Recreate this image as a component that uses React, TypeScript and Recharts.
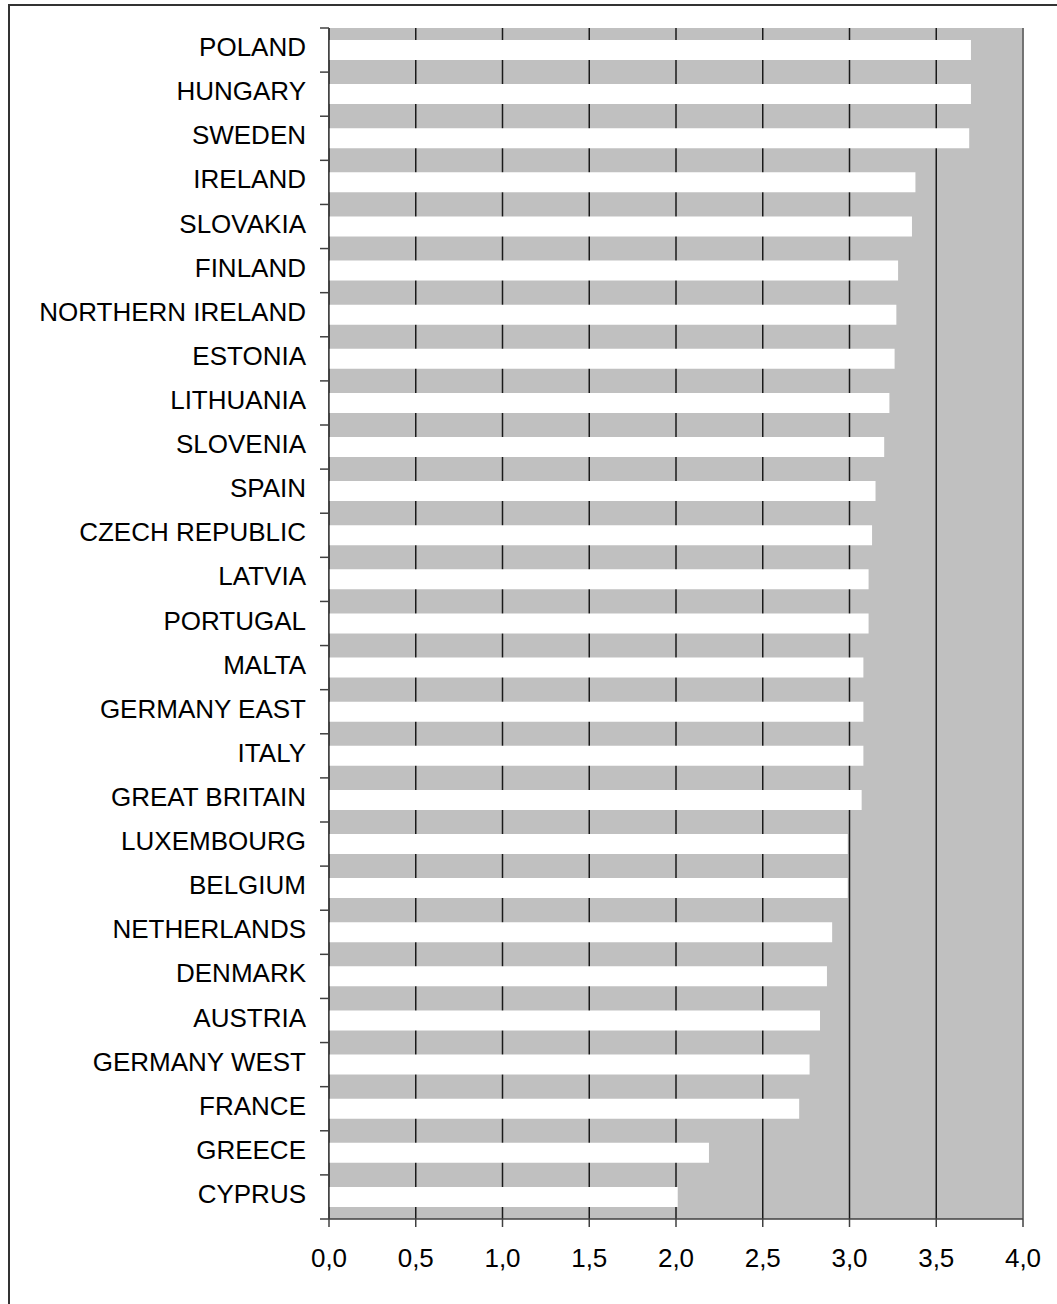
import React from "react";
import { BarChart, Bar, XAxis, YAxis, CartesianGrid, ReferenceLine } from "recharts";

// Countries, top to bottom
const COUNTRIES = [
  "POLAND", "HUNGARY", "SWEDEN", "IRELAND", "SLOVAKIA", "FINLAND",
  "NORTHERN IRELAND", "ESTONIA", "LITHUANIA", "SLOVENIA", "SPAIN",
  "CZECH REPUBLIC", "LATVIA", "PORTUGAL", "MALTA", "GERMANY EAST", "ITALY",
  "GREAT BRITAIN", "LUXEMBOURG", "BELGIUM", "NETHERLANDS", "DENMARK",
  "AUSTRIA", "GERMANY WEST", "FRANCE", "GREECE", "CYPRUS",
];

// Mean score per country
const SCORES = [
  3.70, 3.70, 3.69, 3.38, 3.36, 3.28,
  3.27, 3.26, 3.23, 3.20, 3.15,
  3.13, 3.11, 3.11, 3.08, 3.08, 3.08,
  3.07, 2.99, 2.99, 2.90, 2.87,
  2.83, 2.77, 2.71, 2.19, 2.01,
];

const X_TICKS = [0, 0.5, 1, 1.5, 2, 2.5, 3, 3.5, 4];

const data = COUNTRIES.map((country, i) => ({ country, score: SCORES[i] }));

const WIDTH = 1057;
const HEIGHT = 1304;
const X_AXIS_H = 85;
const MARGIN = { top: 28, right: 34, bottom: 0, left: 0 };
const Y_AXIS_W = 329;
const PLOT_H = HEIGHT - MARGIN.top - X_AXIS_H;
const TICK_SIZE = 9;
const TICK_MARGIN = 14;
const FONT = "'Liberation Sans', Arial, sans-serif";

// Category label with a short tick mark on the boundary between bands
const CountryTick = (props: any) => {
  const { x, y, payload, index } = props;
  const band = PLOT_H / COUNTRIES.length;
  const axisX = x + TICK_SIZE + TICK_MARGIN;
  const top = y - band / 2;
  const last = index === COUNTRIES.length - 1;
  return (
    <g>
      <line x1={axisX - TICK_SIZE} x2={axisX} y1={top} y2={top} stroke="#404040" strokeWidth={1.5} />
      {last && (
        <line x1={axisX - TICK_SIZE} x2={axisX} y1={y + band / 2} y2={y + band / 2} stroke="#404040" strokeWidth={1.5} />
      )}
      <text x={x} y={y + 6} textAnchor="end" fontFamily={FONT} fontSize={26} fill="#000">
        {payload.value}
      </text>
    </g>
  );
};

export default function App() {
  return (
    <div style={{ position: "absolute", left: 0, top: 0, width: WIDTH, height: HEIGHT, overflow: "hidden", background: "#fff" }}>
      <div
        style={{
          position: "absolute",
          left: 8,
          top: 4,
          width: 1200,
          height: 1400,
          borderTop: "2px solid #333",
          borderLeft: "2px solid #333",
        }}
      />
      <div style={{ position: "absolute", left: 0, top: 0 }}>
        <BarChart width={WIDTH} height={HEIGHT} data={data} layout="vertical" margin={MARGIN} barCategoryGap={0}>
          <CartesianGrid fill="#C0C0C0" horizontal={false} stroke="#1a1a1a" strokeWidth={1.5} />
          <XAxis
            type="number"
            dataKey="score"
            domain={[0, 4]}
            ticks={X_TICKS}
            interval={0}
            tickFormatter={(v: number) => v.toFixed(1).replace(".", ",")}
            tick={{ fontFamily: FONT, fontSize: 26, fill: "#000" }}
            tickSize={8}
            tickMargin={22}
            stroke="#404040"
            strokeWidth={1.5}
            height={X_AXIS_H}
          />
          <XAxis xAxisId="top" orientation="top" type="number" domain={[0, 4]} tick={false} tickLine={false} height={0} stroke="#808080" strokeWidth={1.5} />
          <YAxis
            type="category"
            dataKey="country"
            width={Y_AXIS_W}
            interval={0}
            tickLine={false}
            tickSize={TICK_SIZE}
            tickMargin={TICK_MARGIN}
            tick={<CountryTick />}
            stroke="#404040"
            strokeWidth={1.5}
          />
          <ReferenceLine x={4} stroke="#808080" strokeWidth={1.5} />
          <Bar dataKey="score" fill="#FFFFFF" barSize={20} isAnimationActive={false} />
        </BarChart>
      </div>
    </div>
  );
}
